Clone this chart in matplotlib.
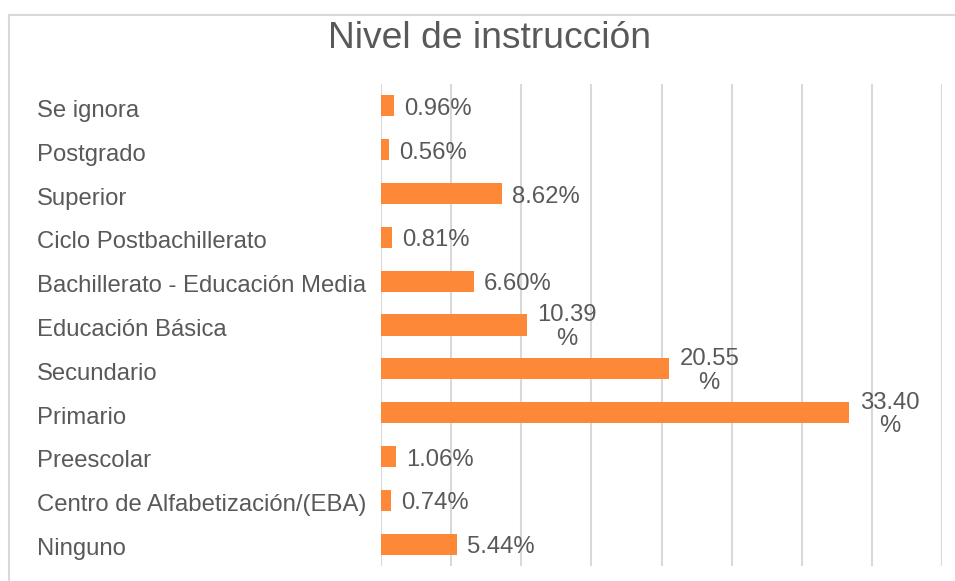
import matplotlib
matplotlib.use("Agg")
import matplotlib.pyplot as plt
import matplotlib.transforms as mtransforms
from matplotlib.lines import Line2D

plt.rcParams['font.family'] = ['Liberation Sans', 'DejaVu Sans']

title = "Nivel de instrucción"
categories = ["Se ignora", "Postgrado", "Superior", "Ciclo Postbachillerato",
              "Bachillerato - Educación Media", "Educación Básica", "Secundario",
              "Primario", "Preescolar", "Centro de Alfabetización/(EBA)", "Ninguno"]
values = [0.96, 0.56, 8.62, 0.81, 6.60, 10.39, 20.55, 33.40, 1.06, 0.74, 5.44]
x_max = 40
x_step = 5

bar_color = "#FD8838"
text_color = "#595959"
grid_color = "#D9D9D9"
fs = 17.2

W, H, DPI = 955, 581, 100
fig = plt.figure(figsize=(W / DPI, H / DPI), dpi=DPI)
ax = fig.add_axes([381 / W, 1 - 566 / H, (942 - 381) / W, (566 - 84) / H])

ypos = list(range(len(categories)))
ax.barh(ypos, values, height=0.48, color=bar_color, zorder=3)
ax.set_xlim(0, x_max)
ax.set_ylim(len(categories) - 0.5, -0.5)
ax.set_xticks([i * x_step for i in range(int(x_max / x_step) + 1)])
ax.set_xticklabels([])
ax.tick_params(axis='x', length=0)
ax.grid(axis='x', color=grid_color, linewidth=1.5, zorder=0)
ax.set_axisbelow(True)
for s in ax.spines.values():
    s.set_visible(False)

ax.set_yticks(ypos)
ax.set_yticklabels(categories, ha='left', fontsize=fs, color=text_color)
ax.tick_params(axis='y', length=0, pad=(381 - 37) * 72 / DPI)
shift = mtransforms.ScaledTranslation(0, -2.5 / DPI, fig.dpi_scale_trans)
for lbl in ax.get_yticklabels():
    lbl.set_transform(lbl.get_transform() + shift)

for y, v in zip(ypos, values):
    if v >= 10:
        ax.annotate(f"{v:.2f}\n%", xy=(v, y), xytext=(40 * 72 / DPI, -1.5),
                    textcoords='offset points', ha='center', va='center',
                    fontsize=fs, color=text_color, linespacing=1.08)
    else:
        ax.annotate(f"{v:.2f}%", xy=(v, y), xytext=(10 * 72 / DPI, -2.2),
                    textcoords='offset points', ha='left', va='center',
                    fontsize=fs, color=text_color)

fig.text(489.5 / W, 1 - 38 / H, title, ha='center', va='center',
         fontsize=26.8, color=text_color)

fig.add_artist(Line2D([9 / W, 1], [1 - 15 / H, 1 - 15 / H], transform=fig.transFigure,
                      color=grid_color, linewidth=1.5))
fig.add_artist(Line2D([9 / W, 9 / W], [0, 1 - 15 / H], transform=fig.transFigure,
                      color=grid_color, linewidth=1.5))

fig.savefig("out.png", dpi=DPI, facecolor='white')
